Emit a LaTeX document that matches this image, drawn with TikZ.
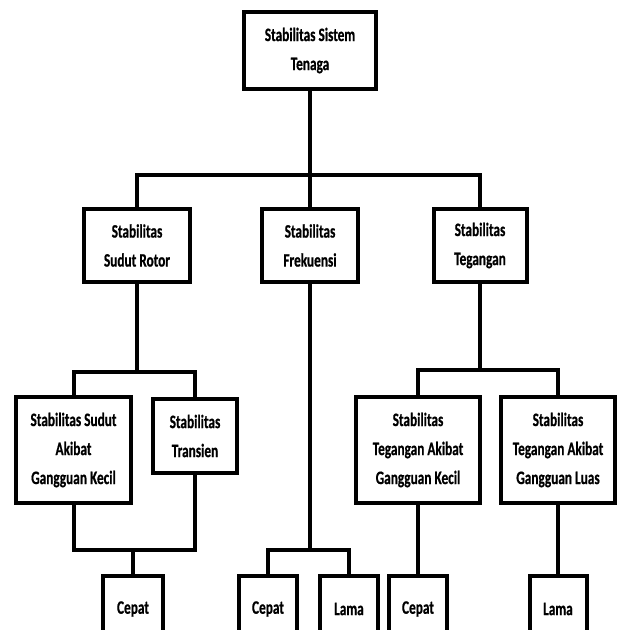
\documentclass[tikz,border=0pt]{standalone}
\usepackage{fontspec}
\setmainfont{Carlito}[FakeStretch=0.7,BoldFeatures={FakeBold=0.6}]
\begin{document}
\begin{tikzpicture}[x=1pt,y=-1pt,
  box/.style={draw=black, line width=4pt, fill=white, align=center, inner sep=0pt,
    font=\fontsize{19}{29}\selectfont\bfseries, text=black},
  conn/.style={draw=black, line width=4pt, line cap=rect}]
\useasboundingbox (0,0) rectangle (618,630);
\clip (0,0) rectangle (618,630);
\fill[white] (0,0) rectangle (618,630);
% level 0
\node[box, minimum width=132pt, minimum height=77pt] (top) at (310,50.5) {Stabilitas Sistem\\Tenaga};
% level 1
\node[box, minimum width=106pt, minimum height=73pt] (rot) at (137,245.5) {Stabilitas\\Sudut Rotor};
\node[box, minimum width=96pt, minimum height=73pt] (frek) at (310,245.5) {Stabilitas\\Frekuensi};
\node[box, minimum width=93pt, minimum height=73pt] (teg) at (480,245.5) {Stabilitas\\Tegangan};
% level 2
\node[box, minimum width=115pt, minimum height=106pt] (sak) at (73.5,450) {Stabilitas Sudut\\Akibat\\Gangguan Kecil};
\node[box, minimum width=84pt, minimum height=74pt] (tr) at (195,436) {Stabilitas\\Transien};
\node[box, minimum width=124pt, minimum height=106pt] (tak) at (418,450) {Stabilitas\\Tegangan Akibat\\Gangguan Kecil};
\node[box, minimum width=114pt, minimum height=106pt] (tal) at (558,450) {Stabilitas\\Tegangan Akibat\\Gangguan Luas};
% level 3
\node[box, minimum width=60pt, minimum height=66pt] (c1) at (133,609) {Cepat};
\node[box, minimum width=58pt, minimum height=66pt] (c2) at (268,609) {Cepat};
\node[box, minimum width=58pt, minimum height=66pt] (l3) at (349,609) {Lama};
\node[box, minimum width=58pt, minimum height=66pt] (c4) at (418,609) {Cepat};
\node[box, minimum width=57pt, minimum height=66pt] (l5) at (558,609) {Lama};
% bus coordinates
\coordinate (b0) at (310,175);
\coordinate (b1) at (137,372);
\coordinate (b2) at (480,370);
\coordinate (b3) at (133,550);
\coordinate (b4) at (308,550);
% connectors level 0 -> 1
\draw[conn] (top.south) -- (b0);
\draw[conn] (rot.north) -- (rot.north |- b0) -- (teg.north |- b0) -- (teg.north);
\draw[conn] (b0) -- (frek.north);
% rotor -> level 2
\draw[conn] (rot.south) -- (b1);
\draw[conn] (sak.north) -- (sak.north |- b1) -- (tr.north |- b1) -- (tr.north);
% tegangan -> level 2
\draw[conn] (teg.south) -- (b2);
\draw[conn] (tak.north) -- (tak.north |- b2) -- (tal.north |- b2) -- (tal.north);
% rotor level 2 -> cepat
\draw[conn] (sak.south) -- (sak.south |- b3) -- (tr.south |- b3) -- (tr.south);
\draw[conn] (b3) -- (c1.north);
% frekuensi -> cepat, lama
\draw[conn] (frek.south) -- (frek.south |- b4);
\draw[conn] (c2.north) -- (c2.north |- b4) -- (l3.north |- b4) -- (l3.north);
% tegangan level 2 -> level 3
\draw[conn] (tak.south) -- (c4.north);
\draw[conn] (tal.south) -- (l5.north);
\end{tikzpicture}
\end{document}
